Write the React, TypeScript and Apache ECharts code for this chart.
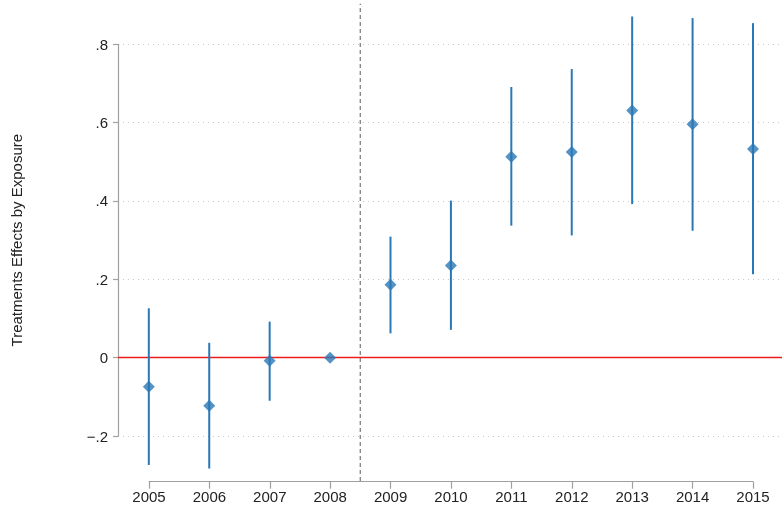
import React, { useEffect, useRef } from "react";
import * as echarts from "echarts";

const years = [2005, 2006, 2007, 2008, 2009, 2010, 2011, 2012, 2013, 2014, 2015];
const estimates = [-0.074, -0.123, -0.008, 0, 0.186, 0.235, 0.513, 0.525, 0.631, 0.596, 0.533];
const ciLow = [-0.274, -0.283, -0.11, null, 0.062, 0.071, 0.337, 0.312, 0.392, 0.324, 0.213];
const ciHigh = [0.126, 0.038, 0.092, null, 0.309, 0.401, 0.691, 0.737, 0.871, 0.867, 0.854];
const treatmentLine = 2008.5;
const treatmentLineSpan = [-0.315, 0.9035];
const yTicks = [-0.2, 0, 0.2, 0.4, 0.6, 0.8];

const FONT = "'Liberation Sans', Arial, Helvetica, sans-serif";
const BLUE = "#2a78b6";

export default function App() {
  const ref = useRef<HTMLDivElement>(null);
  useEffect(() => {
    if (!ref.current) return;
    const chart = echarts.init(ref.current, null, { renderer: "svg" });
    const fmt = (v: number) => {
      const s = Number(v).toFixed(1);
      if (Math.abs(v) < 1e-9) return "0";
      const neg = s.startsWith("-");
      const body = s.replace("-", "").replace(/^0/, "");
      return (neg ? "\u2212" : "") + body;
    };
    const errData = years
      .map((y, i) => [y, ciLow[i], ciHigh[i]])
      .filter((d) => d[1] !== null && d[2] !== null);
    chart.setOption({
      animation: false,
      grid: [
        { left: 118, right: 0, top: 44.3, bottom: 74 },
        { left: 149, right: 29, bottom: 28.3, height: 10 },
      ],
      xAxis: [
        {
          gridIndex: 0,
          type: "value",
          min: 2004.49,
          max: 2015.48,
          show: false,
          splitLine: { show: false },
        },
        {
          gridIndex: 1,
          type: "value",
          min: 2005,
          max: 2015,
          interval: 1,
          position: "bottom",
          axisLine: { show: true, lineStyle: { color: "#a0a0a0", width: 1.2 } },
          axisTick: { show: true, length: 7, lineStyle: { color: "#a0a0a0", width: 1.2 } },
          axisLabel: {
            show: true,
            margin: 7,
            fontSize: 15,
            color: "#222",
            fontFamily: FONT,
            formatter: (v: number) => String(v),
          },
          splitLine: { show: false },
        },
      ],
      yAxis: [
        {
          gridIndex: 0,
          type: "value",
          min: -0.2,
          max: 0.8,
          interval: 0.2,
          name: "Treatments Effects by Exposure",
          nameLocation: "middle",
          nameGap: 94,
          nameTextStyle: { fontSize: 15, color: "#222", fontFamily: FONT },
          axisLine: { show: true, lineStyle: { color: "#a0a0a0", width: 1.2 } },
          axisTick: { show: true, length: 5, lineStyle: { color: "#a0a0a0", width: 1.2 } },
          axisLabel: {
            margin: 10,
            fontSize: 15,
            color: "#222",
            fontFamily: FONT,
            formatter: fmt,
            customValues: yTicks,
          },
          splitLine: {
            show: true,
            lineStyle: { color: "#c8c8c8", type: [1, 4], width: 1 },
          },
        },
        { gridIndex: 1, type: "value", show: false, splitLine: { show: false } },
      ],
      series: [
        {
          type: "custom",
          xAxisIndex: 0,
          yAxisIndex: 0,
          silent: true,
          z: 1,
          data: [[treatmentLine, treatmentLineSpan[0], treatmentLineSpan[1]]],
          renderItem: (params: any, api: any) => {
            const p1 = api.coord([api.value(0), api.value(1)]);
            const p2 = api.coord([api.value(0), api.value(2)]);
            return {
              type: "line",
              shape: { x1: p1[0], y1: p1[1], x2: p2[0], y2: p2[1] },
              style: { stroke: "#808080", lineWidth: 1.3, lineDash: [4, 3] },
            };
          },
        },
        {
          type: "custom",
          xAxisIndex: 0,
          yAxisIndex: 0,
          silent: true,
          z: 3,
          data: errData,
          renderItem: (params: any, api: any) => {
            const p1 = api.coord([api.value(0), api.value(1)]);
            const p2 = api.coord([api.value(0), api.value(2)]);
            return {
              type: "line",
              shape: { x1: p1[0], y1: p1[1], x2: p2[0], y2: p2[1] },
              style: { stroke: BLUE, lineWidth: 2 },
            };
          },
        },
        {
          type: "scatter",
          xAxisIndex: 0,
          yAxisIndex: 0,
          symbol: "diamond",
          symbolSize: [12, 12],
          clip: false,
          z: 4,
          itemStyle: { color: BLUE },
          data: years.map((y, i) => [y, estimates[i]]),
          markLine: {
            silent: true,
            symbol: "none",
            label: { show: false },
            lineStyle: { color: "#ee1c1c", type: "solid", width: 1.3 },
            data: [{ yAxis: 0 }],
            z: 2,
          },
        },
      ],
    });
    return () => chart.dispose();
  }, []);
  return (
    <div
      ref={ref}
      style={{ position: "fixed", left: 0, top: 0, width: 782, height: 510 }}
    />
  );
}
